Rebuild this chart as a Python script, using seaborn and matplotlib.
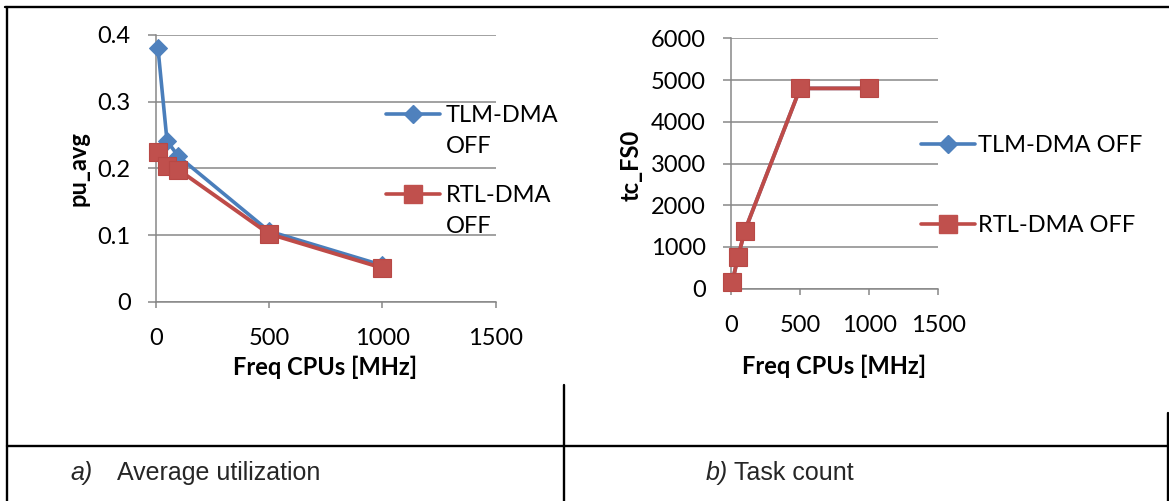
import matplotlib
matplotlib.use("Agg")
import matplotlib.pyplot as plt
from matplotlib.lines import Line2D
import pandas as pd
import seaborn as sns

# ---- data -------------------------------------------------------------
freq_mhz = [10, 50, 100, 500, 1000]
pu_avg_tlm = [0.38, 0.241, 0.218, 0.106, 0.055]
pu_avg_rtl = [0.224, 0.203, 0.198, 0.102, 0.051]
tc_fs0_tlm = [170, 750, 1390, 4800, 4800]
tc_fs0_rtl = [170, 750, 1390, 4800, 4800]

series_names = ["TLM-DMA OFF", "RTL-DMA OFF"]
x_ticks = [0, 500, 1000, 1500]
pu_ticks = [0, 0.1, 0.2, 0.3, 0.4]
tc_ticks = [0, 1000, 2000, 3000, 4000, 5000, 6000]
x_label = "Freq CPUs [MHz]"
y_labels = ["pu_avg", "tc_FS0"]
captions = [("a)", "Average utilization"), ("b)", "Task count")]

# ---- style ------------------------------------------------------------
sns.set_theme(style="white")
plt.rcParams["font.family"] = ["Lato", "DejaVu Sans"]

W, H = 1169, 501
BLUE_LINE, BLUE_MARK = "#4A7EBB", "#4F81BD"
RED_LINE, RED_MARK = "#BE4B48", "#C0504D"
GRID = "#878787"
FS = 17

fig = plt.figure(figsize=(W / 100, H / 100), dpi=100)
fig.patch.set_facecolor("white")


def fx(px):
    return px / W


def fy(py):
    return 1 - py / H


ax_a = fig.add_axes([fx(155.7), fy(302), 339.9 / W, 267.3 / H])
ax_b = fig.add_axes([fx(731), fy(288.7), 207.3 / W, 250.4 / H])

df_a = pd.DataFrame({"freq": freq_mhz, "tlm": pu_avg_tlm, "rtl": pu_avg_rtl})
df_b = pd.DataFrame({"freq": freq_mhz, "tlm": tc_fs0_tlm, "rtl": tc_fs0_rtl})

for ax, df in ((ax_a, df_a), (ax_b, df_b)):
    sns.lineplot(data=df, x="freq", y="tlm", ax=ax, color=BLUE_LINE, lw=2.6,
                 marker="D", markersize=9.2, markerfacecolor=BLUE_MARK,
                 markeredgecolor=BLUE_MARK, clip_on=False, zorder=3)
    sns.lineplot(data=df, x="freq", y="rtl", ax=ax, color=RED_LINE, lw=2.8,
                 marker="s", markersize=13.5, markerfacecolor=RED_MARK,
                 markeredgecolor="#B84845", markeredgewidth=0.8,
                 clip_on=False, zorder=4)

# ---- axes formatting --------------------------------------------------
for ax, yt, ylab in ((ax_a, pu_ticks, y_labels[0]), (ax_b, tc_ticks, y_labels[1])):
    ax.set_xlim(0, 1500)
    ax.set_ylim(yt[0], yt[-1])
    ax.set_xticks(x_ticks)
    ax.set_xticklabels([f"{v:g}" for v in x_ticks])
    ax.set_yticks(yt)
    ax.set_yticklabels([f"{v:g}" for v in yt])
    ax.grid(axis="y", color=GRID, lw=1.1)
    ax.grid(axis="x", visible=False)
    ax.set_axisbelow(True)
    for side in ("top", "right"):
        ax.spines[side].set_visible(False)
    for side in ("left", "bottom"):
        ax.spines[side].set_color(GRID)
        ax.spines[side].set_linewidth(1.1)
    ax.tick_params(axis="y", left=True, length=6, width=1.1, color=GRID,
                   pad=12, labelsize=FS, labelcolor="black")
    ax.tick_params(axis="x", bottom=True, length=4, width=1.1, color=GRID,
                   pad=15, labelsize=FS, labelcolor="black")
    ax.set_xlabel(x_label, fontsize=FS, fontweight="bold", color="black")
    ax.set_ylabel(ylab, fontsize=FS, fontweight="bold", color="black")
    ax.xaxis.label.set_va("center")
    ax.yaxis.label.set_va("center")

ax_a.xaxis.set_label_coords((325 - 155.7) / 339.9, (302 - 367) / 267.3)
ax_a.yaxis.set_label_coords((78 - 155.7) / 339.9, (302 - 169) / 267.3)
ax_b.xaxis.set_label_coords((834 - 731) / 207.3, (288.7 - 366) / 250.4)
ax_b.yaxis.set_label_coords((631 - 731) / 207.3, (288.7 - 165) / 250.4)


# ---- legends ----------------------------------------------------------
def legend_entry(x0, x1, y, color, mcolor, marker, ms, text_x, lines, baseline0):
    xm = (x0 + x1) / 2
    fig.add_artist(Line2D([fx(x0), fx(xm), fx(x1)], [fy(y)] * 3,
                          transform=fig.transFigure, color=color, lw=2.6,
                          marker=marker, markersize=ms, markevery=[1],
                          markerfacecolor=mcolor, markeredgecolor=mcolor,
                          solid_capstyle="round"))
    for i, t in enumerate(lines):
        fig.text(fx(text_x), fy(baseline0 + i * 31), t, fontsize=FS,
                 ha="left", va="baseline", color="black")


legend_entry(386, 440, 113.5, BLUE_LINE, BLUE_MARK, "D", 9.2, 446,
             series_names[0].split(" "), 122.3)
legend_entry(386, 440, 194, RED_LINE, RED_MARK, "s", 13.5, 446,
             series_names[1].split(" "), 201.7)
legend_entry(921, 975, 144, BLUE_LINE, BLUE_MARK, "D", 9.2, 978,
             [series_names[0]], 151.7)
legend_entry(921, 975, 224, RED_LINE, RED_MARK, "s", 13.5, 978,
             [series_names[1]], 231.7)

# ---- table frame and captions ----------------------------------------
frame = [
    ((5, 1169), (7, 7)),
    ((7, 7), (7, 501)),
    ((563.7, 563.7), (385, 501)),
    ((7, 1168), (446, 446)),
    ((1168, 1168), (413, 501)),
]
for xs, ys in frame:
    fig.add_artist(Line2D([fx(v) for v in xs], [fy(v) for v in ys],
                          transform=fig.transFigure, color="black", lw=1.7))

cap_font = ["Liberation Sans", "DejaVu Sans"]
for (tag, text), (x_tag, x_text) in zip(captions, ((70, 117), (706, 734))):
    fig.text(fx(x_tag), fy(480), tag, fontsize=18, style="italic",
             family=cap_font, va="baseline", ha="left")
    fig.text(fx(x_text), fy(480), text, fontsize=18, family=cap_font,
             va="baseline", ha="left")

fig.savefig("out.png", dpi=100, facecolor="white")
